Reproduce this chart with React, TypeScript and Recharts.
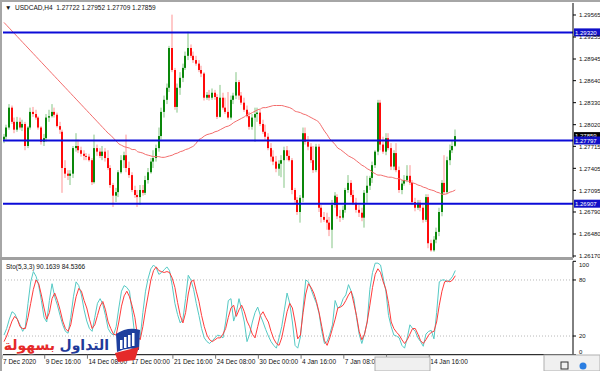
import { ComposedChart, Bar, Line, XAxis, YAxis, ReferenceLine } from 'recharts';

// USDCAD H4 candles, bar 0 = 7 Dec 2020 00:00
const open = [
  1.2781, 1.2785, 1.2798, 1.2826, 1.2806, 1.2795, 1.2806, 1.2798, 1.2803, 1.2772,
  1.2798, 1.2820, 1.2817, 1.2812, 1.2798, 1.2778, 1.2783, 1.2812, 1.2814, 1.2820,
  1.2816, 1.2800, 1.2792, 1.2741, 1.2733, 1.2730, 1.2733, 1.2769, 1.2772, 1.2766,
  1.2761, 1.2758, 1.2757, 1.2752, 1.2721, 1.2769, 1.2764, 1.2758, 1.2764, 1.2755,
  1.2741, 1.2717, 1.2702, 1.2707, 1.2735, 1.2752, 1.2759, 1.2741, 1.2731, 1.2710,
  1.2703, 1.2700, 1.2710, 1.2706, 1.2724, 1.2735, 1.2750, 1.2755, 1.2769, 1.2786,
  1.2820, 1.2837, 1.2854, 1.2910, 1.2879, 1.2827, 1.2854, 1.2868, 1.2882, 1.2899,
  1.2910, 1.2899, 1.2893, 1.2888, 1.2879, 1.2874, 1.2840, 1.2844, 1.2840, 1.2847,
  1.2841, 1.2813, 1.2840, 1.2826, 1.2820, 1.2812, 1.2837, 1.2843, 1.2862, 1.2843,
  1.2833, 1.2823, 1.2814, 1.2799, 1.2812, 1.2817, 1.2819, 1.2803, 1.2792, 1.2785,
  1.2769, 1.2757, 1.2750, 1.2740, 1.2747, 1.2752, 1.2766, 1.2758, 1.2752, 1.2710,
  1.2696, 1.2679, 1.2699, 1.2790, 1.2778, 1.2771, 1.2752, 1.2738, 1.2771, 1.2685,
  1.2672, 1.2668, 1.2664, 1.2654, 1.2689, 1.2700, 1.2673, 1.2671, 1.2682, 1.2710,
  1.2720, 1.2703, 1.2692, 1.2682, 1.2678, 1.2671, 1.2706, 1.2716, 1.2727, 1.2745,
  1.2764, 1.2833, 1.2774, 1.2764, 1.2783, 1.2769, 1.2743, 1.2762, 1.2738, 1.2710,
  1.2719, 1.2724, 1.2730, 1.2720, 1.2693, 1.2685, 1.2692, 1.2685, 1.2668, 1.2700,
  1.2635, 1.2625, 1.2640, 1.2651, 1.2679, 1.2720, 1.2707, 1.2752, 1.2766, 1.27722,
];
const high = [
  1.2789, 1.2802, 1.2831, 1.2829, 1.2812, 1.2813, 1.2812, 1.2809, 1.2806, 1.2800,
  1.2826, 1.2827, 1.2823, 1.2814, 1.2800, 1.2789, 1.2817, 1.2823, 1.2831, 1.2826,
  1.2819, 1.2806, 1.2795, 1.2752, 1.2738, 1.2738, 1.2772, 1.2790, 1.2781, 1.2771,
  1.2766, 1.2762, 1.2761, 1.2755, 1.2788, 1.2774, 1.2769, 1.2772, 1.2769, 1.2766,
  1.2745, 1.2720, 1.2713, 1.2738, 1.2759, 1.2764, 1.2788, 1.2750, 1.2735, 1.2716,
  1.2710, 1.2717, 1.2717, 1.2730, 1.2741, 1.2755, 1.2766, 1.2774, 1.2798, 1.2826,
  1.2843, 1.2860, 1.2913, 1.2957, 1.2882, 1.2860, 1.2876, 1.2888, 1.2905, 1.2933,
  1.2915, 1.2905, 1.2899, 1.2893, 1.2885, 1.2876, 1.2848, 1.2851, 1.2853, 1.2851,
  1.2845, 1.2858, 1.2847, 1.2840, 1.2848, 1.2843, 1.2847, 1.2876, 1.2865, 1.2848,
  1.2840, 1.2829, 1.2820, 1.2817, 1.2826, 1.2826, 1.2823, 1.2809, 1.2802, 1.2790,
  1.2776, 1.2766, 1.2758, 1.2752, 1.2759, 1.2771, 1.2772, 1.2766, 1.2755, 1.2713,
  1.2700, 1.2703, 1.2798, 1.2798, 1.2786, 1.2776, 1.2772, 1.2775, 1.2775, 1.2689,
  1.2679, 1.2678, 1.2672, 1.2696, 1.2707, 1.2704, 1.2682, 1.2688, 1.2713, 1.2731,
  1.2724, 1.2710, 1.2699, 1.2689, 1.2685, 1.2710, 1.2730, 1.2730, 1.2750, 1.2766,
  1.2837, 1.2837, 1.2785, 1.2790, 1.2790, 1.2776, 1.2766, 1.2776, 1.2743, 1.2724,
  1.2731, 1.2745, 1.2745, 1.2724, 1.2699, 1.2696, 1.2696, 1.2689, 1.2704, 1.2704,
  1.2640, 1.2645, 1.2657, 1.2685, 1.2724, 1.2759, 1.2757, 1.2774, 1.2779, 1.27952,
];
const low = [
  1.2776, 1.2781, 1.2795, 1.2803, 1.2790, 1.2792, 1.2795, 1.2793, 1.2766, 1.2769,
  1.2795, 1.2813, 1.2809, 1.2795, 1.2774, 1.2772, 1.2778, 1.2806, 1.2812, 1.2812,
  1.2798, 1.2789, 1.2706, 1.2727, 1.2724, 1.2717, 1.2727, 1.2764, 1.2762, 1.2757,
  1.2752, 1.2752, 1.2750, 1.2717, 1.2719, 1.2758, 1.2755, 1.2752, 1.2750, 1.2738,
  1.2713, 1.2686, 1.2693, 1.2700, 1.2733, 1.2741, 1.2735, 1.2727, 1.2707, 1.2699,
  1.2686, 1.2689, 1.2702, 1.2703, 1.2719, 1.2733, 1.2741, 1.2750, 1.2764, 1.2781,
  1.2812, 1.2831, 1.2848, 1.2876, 1.2823, 1.2819, 1.2844, 1.2862, 1.2879, 1.2893,
  1.2896, 1.2889, 1.2885, 1.2876, 1.2869, 1.2836, 1.2837, 1.2836, 1.2837, 1.2837,
  1.2810, 1.2812, 1.2823, 1.2817, 1.2809, 1.2809, 1.2831, 1.2838, 1.2837, 1.2830,
  1.2820, 1.2812, 1.2795, 1.2795, 1.2778, 1.2806, 1.2800, 1.2789, 1.2781, 1.2766,
  1.2750, 1.2745, 1.2735, 1.2730, 1.2728, 1.2713, 1.2752, 1.2750, 1.2704, 1.2692,
  1.2675, 1.2664, 1.2693, 1.2774, 1.2766, 1.2748, 1.2734, 1.2735, 1.2679, 1.2664,
  1.2665, 1.2654, 1.2645, 1.2628, 1.2685, 1.2669, 1.2665, 1.2668, 1.2678, 1.2706,
  1.2700, 1.2689, 1.2678, 1.2672, 1.2666, 1.2657, 1.2692, 1.2710, 1.2720, 1.2741,
  1.2759, 1.2766, 1.2761, 1.2759, 1.2766, 1.2738, 1.2738, 1.2735, 1.2706, 1.2704,
  1.2716, 1.2721, 1.2717, 1.2689, 1.2680, 1.2682, 1.2680, 1.2664, 1.2665, 1.2628,
  1.2623, 1.2623, 1.2635, 1.2645, 1.2673, 1.2703, 1.2704, 1.2745, 1.2762, 1.27709,
];
const close = [
  1.2785, 1.2798, 1.2826, 1.2806, 1.2795, 1.2806, 1.2798, 1.2803, 1.2772, 1.2798,
  1.2820, 1.2817, 1.2812, 1.2798, 1.2778, 1.2783, 1.2812, 1.2814, 1.2820, 1.2816,
  1.2800, 1.2795, 1.2741, 1.2733, 1.2730, 1.2733, 1.2769, 1.2772, 1.2766, 1.2761,
  1.2758, 1.2757, 1.2752, 1.2721, 1.2769, 1.2764, 1.2758, 1.2764, 1.2755, 1.2741,
  1.2717, 1.2702, 1.2707, 1.2735, 1.2752, 1.2759, 1.2741, 1.2731, 1.2710, 1.2703,
  1.2700, 1.2710, 1.2706, 1.2724, 1.2735, 1.2750, 1.2755, 1.2769, 1.2786, 1.2820,
  1.2837, 1.2854, 1.2910, 1.2879, 1.2827, 1.2854, 1.2868, 1.2882, 1.2899, 1.2910,
  1.2899, 1.2893, 1.2888, 1.2879, 1.2874, 1.2840, 1.2844, 1.2840, 1.2847, 1.2841,
  1.2813, 1.2840, 1.2826, 1.2820, 1.2812, 1.2837, 1.2843, 1.2862, 1.2843, 1.2833,
  1.2823, 1.2814, 1.2799, 1.2812, 1.2817, 1.2819, 1.2803, 1.2792, 1.2785, 1.2769,
  1.2757, 1.2750, 1.2740, 1.2747, 1.2752, 1.2766, 1.2758, 1.2752, 1.2710, 1.2696,
  1.2679, 1.2699, 1.2790, 1.2778, 1.2771, 1.2752, 1.2738, 1.2771, 1.2685, 1.2672,
  1.2668, 1.2664, 1.2654, 1.2689, 1.2702, 1.2673, 1.2671, 1.2682, 1.2710, 1.2720,
  1.2703, 1.2692, 1.2682, 1.2678, 1.2671, 1.2706, 1.2716, 1.2727, 1.2745, 1.2764,
  1.2833, 1.2774, 1.2764, 1.2783, 1.2769, 1.2743, 1.2762, 1.2738, 1.2710, 1.2719,
  1.2724, 1.2730, 1.2720, 1.2693, 1.2685, 1.2692, 1.2685, 1.2668, 1.2700, 1.2635,
  1.2625, 1.2640, 1.2651, 1.2679, 1.2720, 1.2707, 1.2752, 1.2766, 1.2772, 1.27859,
];
// moving average
const ma = [
  1.2946, 1.2942, 1.2938, 1.2934, 1.2930, 1.2926, 1.2922, 1.2918, 1.2914, 1.2910,
  1.2906, 1.2902, 1.2898, 1.2894, 1.2890, 1.2886, 1.2882, 1.2878, 1.2874, 1.2870,
  1.2866, 1.2862, 1.2858, 1.2854, 1.2850, 1.2846, 1.2842, 1.2838, 1.2834, 1.2830,
  1.2826, 1.2822, 1.2818, 1.2814, 1.2810, 1.2806, 1.2802, 1.2798, 1.2794, 1.2790,
  1.2787, 1.2783, 1.2779, 1.2775, 1.2773, 1.2771, 1.2770, 1.2769, 1.2767, 1.2767,
  1.2764, 1.2763, 1.2762, 1.2760, 1.2759, 1.2758, 1.2757, 1.2757, 1.2757, 1.2756,
  1.2756, 1.2757, 1.2758, 1.2759, 1.2761, 1.2762, 1.2764, 1.2765, 1.2767, 1.2768,
  1.2770, 1.2772, 1.2776, 1.2781, 1.2783, 1.2786, 1.2788, 1.2789, 1.2790, 1.2792,
  1.2793, 1.2795, 1.2797, 1.2799, 1.2800, 1.2802, 1.2805, 1.2807, 1.2809, 1.2811,
  1.2813, 1.2816, 1.2817, 1.2819, 1.2821, 1.2823, 1.2824, 1.2826, 1.2826, 1.2827,
  1.2828, 1.2829, 1.2829, 1.2829, 1.2829, 1.2828, 1.2827, 1.2826, 1.2824, 1.2821,
  1.2820, 1.2819, 1.2817, 1.2816, 1.2814, 1.2812, 1.2810, 1.2808, 1.2805, 1.2799,
  1.2793, 1.2788, 1.2782, 1.2778, 1.2774, 1.2769, 1.2767, 1.2764, 1.2761, 1.2758,
  1.2756, 1.2754, 1.2751, 1.2748, 1.2745, 1.2743, 1.2740, 1.2738, 1.2735, 1.2733,
  1.2731, 1.2731, 1.2730, 1.2729, 1.2728, 1.2728, 1.2727, 1.2726, 1.2726, 1.2724,
  1.2723, 1.2723, 1.2721, 1.2720, 1.2719, 1.2717, 1.2716, 1.2714, 1.2713, 1.2711,
  1.2710, 1.2709, 1.2707, 1.2706, 1.2704, 1.2704, 1.2705, 1.2707, 1.2708, 1.2710,
];
// Sto(5,3,3) main and signal
const stochK = [
  21, 28, 38, 46, 44, 38, 32, 25, 30, 55,
  78, 89, 84, 74, 58, 40, 35, 58, 76, 62,
  53, 42, 32, 25, 23, 40, 62, 78, 74, 64,
  48, 36, 28, 25, 40, 55, 60, 54, 42, 28,
  23, 21, 30, 50, 68, 74, 72, 68, 45, 20,
  16, 18, 45, 68, 82, 92, 96, 93, 86, 88,
  91, 94, 90, 74, 55, 43, 34, 38, 60, 85,
  80, 70, 55, 42, 28, 18, 14, 12, 15, 18,
  21, 20, 18, 35, 58, 60, 36, 45, 60, 48,
  35, 14, 22, 35, 45, 51, 42, 35, 27, 20,
  14, 10, 7, 18, 30, 48, 66, 55, 35, 10,
  7, 19, 50, 80, 78, 70, 62, 55, 44, 25,
  12, 14, 22, 32, 58, 50, 52, 60, 64, 75,
  68, 60, 40, 22, 12, 22, 35, 70, 88, 98,
  98, 96, 82, 68, 42, 30, 21, 20, 18, 10,
  7, 18, 32, 28, 25, 18, 14, 9, 22, 25,
  26, 17, 45, 78, 80, 80, 78, 80, 84, 90.1639,
];
const stochD = [
  14, 20, 28, 36, 41, 38, 30, 28, 28, 40,
  55, 70, 80, 76, 64, 50, 38, 45, 60, 66,
  58, 48, 36, 28, 25, 32, 48, 62, 71, 68,
  58, 50, 38, 28, 32, 42, 52, 57, 48, 35,
  28, 22, 21, 35, 52, 63, 68, 62, 52, 40,
  20, 16, 30, 48, 64, 80, 90, 94, 90, 89,
  88, 89, 88, 82, 72, 56, 42, 34, 45, 65,
  78, 80, 68, 57, 42, 30, 21, 16, 14, 16,
  18, 18, 22, 28, 40, 50, 53, 41, 48, 53,
  46, 36, 30, 22, 18, 30, 42, 46, 40, 35,
  25, 17, 12, 10, 18, 32, 46, 55, 50, 35,
  17, 21, 45, 65, 76, 72, 66, 57, 45, 30,
  15, 10, 18, 28, 38, 50, 51, 53, 58, 64,
  68, 55, 42, 25, 16, 22, 35, 53, 72, 86,
  92, 88, 78, 70, 55, 35, 28, 24, 21, 16,
  12, 16, 22, 28, 28, 22, 15, 12, 16, 21,
  24, 25, 35, 53, 68, 78, 79, 78, 80, 84.5366,
];

const levels = [1.2932, 1.27797, 1.26907];
const priceTicks = [1.2617, 1.2648, 1.2679, 1.27095, 1.27405, 1.27715, 1.2802, 1.2833, 1.2864, 1.28945, 1.29255, 1.29565];
const stochTicks = [0, 20, 80, 100];
const timeBars = [0, 16, 32, 48, 64, 80, 96, 112, 128, 144, 160];
const timeLabels = ['7 Dec 2020', '9 Dec 16:00', '14 Dec 08:00', '17 Dec 00:00', '21 Dec 16:00', '24 Dec 08:00',
  '30 Dec 00:00', '4 Jan 16:00', '7 Jan 08:00', '12 Jan 00:00', '14 Jan 16:00'];

const candles = open.map((o, i) => ({ i, o, h: high[i], l: low[i], c: close[i], range: [low[i], high[i]], ma: ma[i] }));
const osc = stochK.map((k, i) => ({ i, k, d: stochD[i] }));

const X_DOMAIN: [number, number] = [-0.37, 213.07];
const FONT = 'Liberation Sans, Arial, sans-serif';

function Candle(props: any) {
  const { x, y, width, height, payload } = props;
  if (!payload) return null;
  const top = Math.min(y, y + height);
  const span = Math.abs(height);
  const k = span / (payload.h - payload.l || 1e-9);
  const cx = Math.round(x + width / 2);
  const up = payload.c >= payload.o;
  const b0 = top + (payload.h - Math.max(payload.o, payload.c)) * k;
  const b1 = top + (payload.h - Math.min(payload.o, payload.c)) * k;
  return (
    <g>
      <rect x={cx - 0.5} y={top} width={1} height={span} fill={up ? '#86c586' : '#ff9494'} />
      <rect x={cx - 1} y={b0} width={2} height={Math.max(b1 - b0, 1)} fill={up ? '#0a870a' : '#ff0a0a'} />
    </g>
  );
}

const PriceTick = (p: any) => (
  <text x={p.x + 1} y={p.y + 2.2} fontSize={6} fontFamily={FONT} fill="#111">{p.payload.value.toFixed(5)}</text>
);

// MT4 keeps the 0 and 100 labels inside the window
const StochTick = (p: any) => {
  const v = p.payload.value;
  const dy = v === 100 ? 5.5 : v === 0 ? -0.5 : 2.2;
  return <text x={p.x + 1} y={p.y + dy} fontSize={6} fontFamily={FONT} fill="#111">{v}</text>;
};

const TimeTick = (p: any) => {
  const idx = timeBars.indexOf(p.payload.value);
  return (
    <g>
      <line x1={p.x - 2} x2={p.x - 2} y1={p.y} y2={p.y + 4} stroke="#777" />
      <text x={p.x - 1} y={p.y + 9.5} fontSize={6.5} fontFamily={FONT} fill="#111">{timeLabels[idx]}</text>
    </g>
  );
};

const tag = (text: string, bg: string) => (p: any) => {
  const vb = p.viewBox;
  if (!vb) return null;
  const x = vb.x + vb.width + 1;
  return (
    <g>
      <rect x={x} y={vb.y - 4} width={27} height={8} fill={bg} />
      <text x={x + 1} y={vb.y + 2.3} fontSize={6} fontFamily={FONT} fill="#fff">{text}</text>
    </g>
  );
};

export default function App() {
  return (
    <div style={{ position: 'absolute', left: 0, top: 0, width: 600, height: 371, background: '#fff', overflow: 'hidden' }}>
      <div style={{ position: 'absolute', left: 0, top: 0 }}>
        <ComposedChart width={600} height={258} data={candles} margin={{ top: 3, right: 0, bottom: 0, left: 3 }}>
          <XAxis dataKey="i" type="number" domain={X_DOMAIN} hide allowDataOverflow />
          <YAxis orientation="right" width={27} domain={[1.26142, 1.29734]} ticks={priceTicks} allowDataOverflow
            tick={<PriceTick />} tickSize={3} tickLine={{ stroke: '#000' }} axisLine={{ stroke: '#000' }} interval={0} />
          <Bar dataKey="range" barSize={2} isAnimationActive={false} shape={(p: any) => <Candle {...p} />} />
          <Line dataKey="ma" type="monotone" dot={false} stroke="#f36d6d" strokeWidth={1} isAnimationActive={false} />
          <ReferenceLine y={levels[0]} stroke="#0b0bd8" strokeWidth={2} label={tag('1.29320', '#1010c8')} />
          <ReferenceLine y={close[close.length - 1]} stroke="none" label={tag('1.27859', '#000')} />
          <ReferenceLine y={levels[1]} stroke="#0b0bd8" strokeWidth={2} label={tag('1.27797', '#1010c8')} />
          <ReferenceLine y={levels[2]} stroke="#0b0bd8" strokeWidth={2} label={tag('1.26907', '#1010c8')} />
        </ComposedChart>
      </div>

      <div style={{ position: 'absolute', left: 0, top: 258 }}>
        <ComposedChart width={600} height={113} data={osc} margin={{ top: 3.3, right: 0, bottom: 0, left: 3 }}>
          <XAxis dataKey="i" type="number" domain={X_DOMAIN} allowDataOverflow ticks={timeBars} interval={0}
            tick={<TimeTick />} tickLine={false} tickSize={0} tickMargin={0} height={16.3} axisLine={{ stroke: '#000' }} />
          <YAxis orientation="right" width={27} domain={[0, 100]} ticks={stochTicks} interval={0}
            tick={<StochTick />} tickSize={3} tickLine={{ stroke: '#000' }} axisLine={{ stroke: '#000' }} />
          <ReferenceLine y={80} stroke="#b8b8b8" strokeDasharray="1 2" />
          <ReferenceLine y={20} stroke="#b8b8b8" strokeDasharray="1 2" />
          <Line dataKey="k" type="linear" dot={false} stroke="#55c9c4" strokeWidth={1} isAnimationActive={false} />
          <Line dataKey="d" type="linear" dot={false} stroke="#ff3b3b" strokeWidth={1} isAnimationActive={false} />
        </ComposedChart>
      </div>

      {/* window frame */}
      <div style={{ position: 'absolute', left: 0, top: 0, width: 600, height: 2, background: '#a6a6a6' }} />
      <div style={{ position: 'absolute', left: 0, top: 0, width: 2, height: 371, background: '#a6a6a6' }} />
      <div style={{ position: 'absolute', left: 0, top: 257, width: 573, height: 3, background: '#a0a0a0' }} />

      <div style={{ position: 'absolute', left: 5, top: 4, fontSize: 6.5, fontFamily: FONT, color: '#111', whiteSpace: 'pre', lineHeight: '8px' }}>
        {'\u25BC  USDCAD,H4  1.27722 1.27952 1.27709 1.27859'}
      </div>
      <div style={{ position: 'absolute', left: 6, top: 263, fontSize: 6.5, fontFamily: FONT, color: '#111', whiteSpace: 'pre', lineHeight: '8px' }}>
        {'Sto(5,3,3) 90.1639 84.5366'}
      </div>

      {/* watermark */}
      <div style={{ position: 'absolute', right: 545, top: 335, fontSize: 14, lineHeight: '20px', fontWeight: 'bold', fontFamily: 'DejaVu Sans', color: '#e52a2a', direction: 'rtl', whiteSpace: 'nowrap', textShadow: '0 0 2px #fff, 0 0 2px #fff' }}>بسهولة</div>
      <div style={{ position: 'absolute', right: 491, top: 335, fontSize: 14, lineHeight: '20px', fontWeight: 'bold', fontFamily: 'DejaVu Sans', color: '#1f3a9a', direction: 'rtl', whiteSpace: 'nowrap', textShadow: '0 0 2px #fff, 0 0 2px #fff' }}>التداول</div>
      <svg style={{ position: 'absolute', left: 0, top: 0 }} width={600} height={371}>
        <path d="M116 334 Q128 326 140 330 L139 350 Q128 346 117 352 Z" fill="#1e3f9e" />
        <rect x={120} y={340} width={2.5} height={9} fill="#fff" />
        <rect x={124} y={337} width={2.5} height={11} fill="#fff" />
        <rect x={128} y={335} width={2.5} height={12} fill="#fff" />
        <rect x={132} y={333} width={2.5} height={13} fill="#fff" />
        <path d="M115 353 L139 347 L135 360 L118 362 Z" fill="#e52a2a" />
        <rect x={375} y={357} width={55} height={14} fill="#f0f0f0" stroke="#b0b0b0" />
        <rect x={544} y={355} width={56} height={16} fill="#f0f0f0" stroke="#b0b0b0" />
        <circle cx={583} cy={366} r={3.5} fill="#2a7de1" />
        <rect x={561} y={362} width={7} height={7} fill="none" stroke="#333" />
      </svg>
    </div>
  );
}
